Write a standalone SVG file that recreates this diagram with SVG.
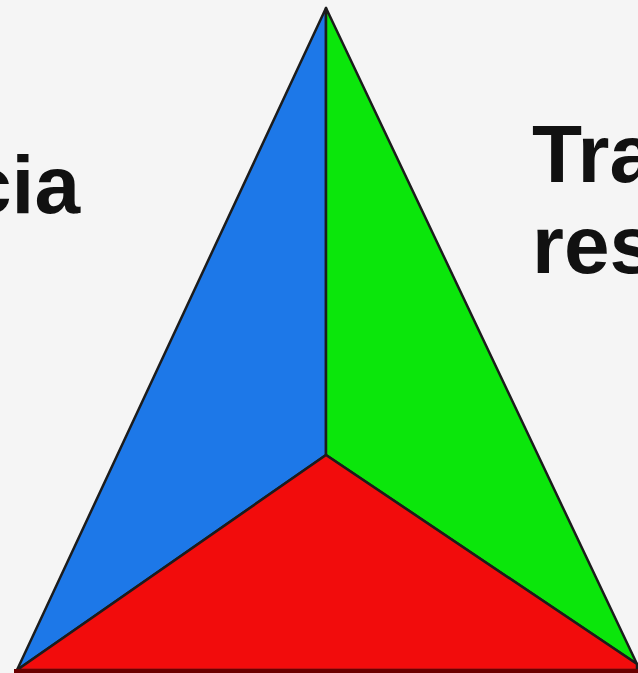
<svg xmlns="http://www.w3.org/2000/svg" width="638" height="673" viewBox="0 0 638 673">
  <style>
    .lbl { font-family: "Liberation Sans", Arial, sans-serif; font-weight: bold; font-size: 82px; fill: #111; }
    .face { stroke: #1c1c1c; stroke-width: 2.5; stroke-linejoin: round; }
  </style>
  <rect x="0" y="0" width="638" height="673" fill="#f5f5f5"/>
  <g id="labels">
    <text class="lbl" x="80" y="213" text-anchor="end">cia</text>
    <text class="lbl" x="532" y="182">Tra</text>
    <text class="lbl" x="532" y="273">res</text>
  </g>
  <g id="pyramid">
    <polygon class="face" fill="#1d78e8" points="326,8 326,455 17,670"/>
    <polygon class="face" fill="#0be60b" points="326,8 637,664 326,455"/>
    <polygon class="face" fill="#f20c0c" points="326,455 17,670 637,670 637,664"/>
    <line x1="14" y1="671" x2="638" y2="671" stroke="#6b0000" stroke-width="4"/>
  </g>
</svg>
